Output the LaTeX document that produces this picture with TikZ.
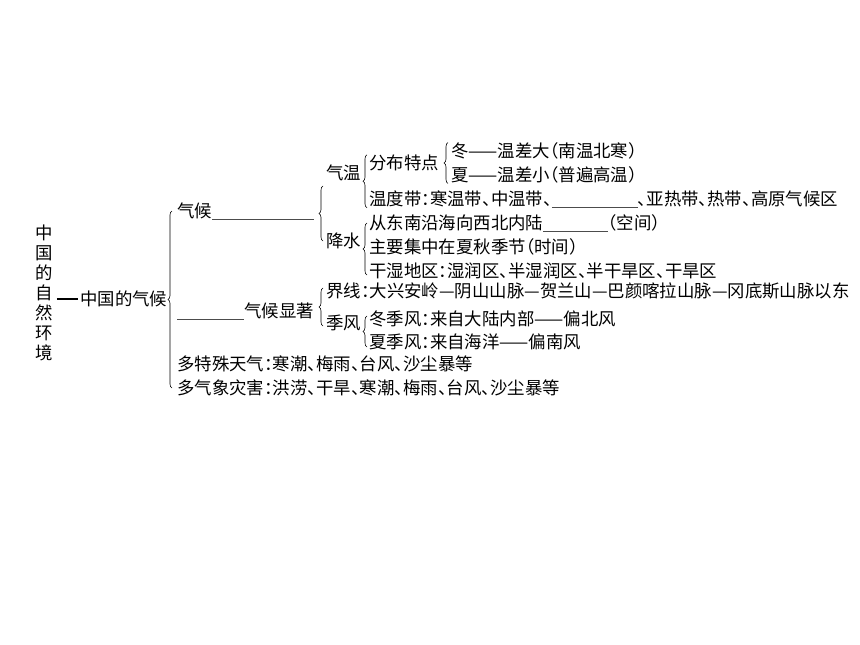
\documentclass[tikz,border=0pt]{standalone}
\usepackage{fontspec}
\setmainfont{Noto Sans CJK SC}[RawFeature=+halt]
\usetikzlibrary{decorations.pathreplacing}
\newcommand\blank[1]{{\color{black!70}\rule[-2.5pt]{#1}{0.6pt}}}
\tikzset{
  txt/.style={anchor=west, inner sep=0pt, font=\fontsize{17.4pt}{20pt}\selectfont},
  brc/.style={decorate, decoration={brace, amplitude=4pt}, line width=0.6pt},
}
\begin{document}
\begin{tikzpicture}[x=1pt, y=-1pt]
  \useasboundingbox (0,0) rectangle (860,645);
  \node[txt, anchor=center, align=center] (title) at (44,293) {中\\国\\的\\自\\然\\环\\境};
  \node[txt] (cn) at (80,299) {中国的气候};
  \node[txt] (qh) at (177,211) {气候\blank{102pt}};
  \node[txt] (xz) at (177,311) {\blank{67pt}气候显著};
  \node[txt] (ts) at (177,364) {多特殊天气：寒潮、梅雨、台风、沙尘暴等};
  \node[txt] (zh) at (177,388) {多气象灾害：洪涝、干旱、寒潮、梅雨、台风、沙尘暴等};
  \node[txt] (qw) at (326,173) {气温};
  \node[txt] (js) at (326,241) {降水};
  \node[txt] (jx) at (326,291) {界线：大兴安岭—阴山山脉—贺兰山—巴颜喀拉山脉—冈底斯山脉以东};
  \node[txt] (jf) at (326,323) {季风};
  \node[txt] (fb) at (369,163) {分布特点};
  \node[txt] (wd) at (369,199) {温度带：寒温带、中温带、\blank{86pt}、亚热带、热带、高原气候区};
  \node[txt] (cd) at (369,223) {从东南沿海向西北内陆\blank{65pt}（空间）};
  \node[txt] (zy) at (369,247) {主要集中在夏秋季节（时间）};
  \node[txt] (gs) at (369,271) {干湿地区：湿润区、半湿润区、半干旱区、干旱区};
  \node[txt] (dj) at (369,319) {冬季风：来自大陆内部——偏北风};
  \node[txt] (xj) at (369,342) {夏季风：来自海洋——偏南风};
  \node[txt] (w1) at (451,151) {冬——温差大（南温北寒）};
  \node[txt] (w2) at (451,175) {夏——温差小（普遍高温）};
  \draw[line width=1.3pt, shorten <=4pt, shorten >=2pt] (title.east |- cn.west) -- (cn.west);
  \draw[brc] ([xshift=-5pt]zh.west) -- ([xshift=-5pt]qh.west);
  \draw[brc] ([xshift=-3pt]js.west) -- ([xshift=-3pt,yshift=-13pt]qw.west);
  \draw[brc] ([xshift=-3pt,yshift=-3pt]jf.west) -- ([xshift=-3pt,yshift=3pt]jx.west);
  \draw[brc] ([xshift=-2pt]wd.south west) -- ([xshift=-2pt]fb.north west);
  \draw[brc] ([xshift=-2pt,yshift=-4pt]gs.west) -- ([xshift=-2pt]cd.west);
  \draw[brc] ([xshift=-2pt,yshift=-5pt]xj.west) -- ([xshift=-2pt,yshift=3pt]dj.west);
  \draw[brc] ([xshift=-3pt]w2.south west) -- ([xshift=-3pt]w1.north west);
\end{tikzpicture}
\end{document}
